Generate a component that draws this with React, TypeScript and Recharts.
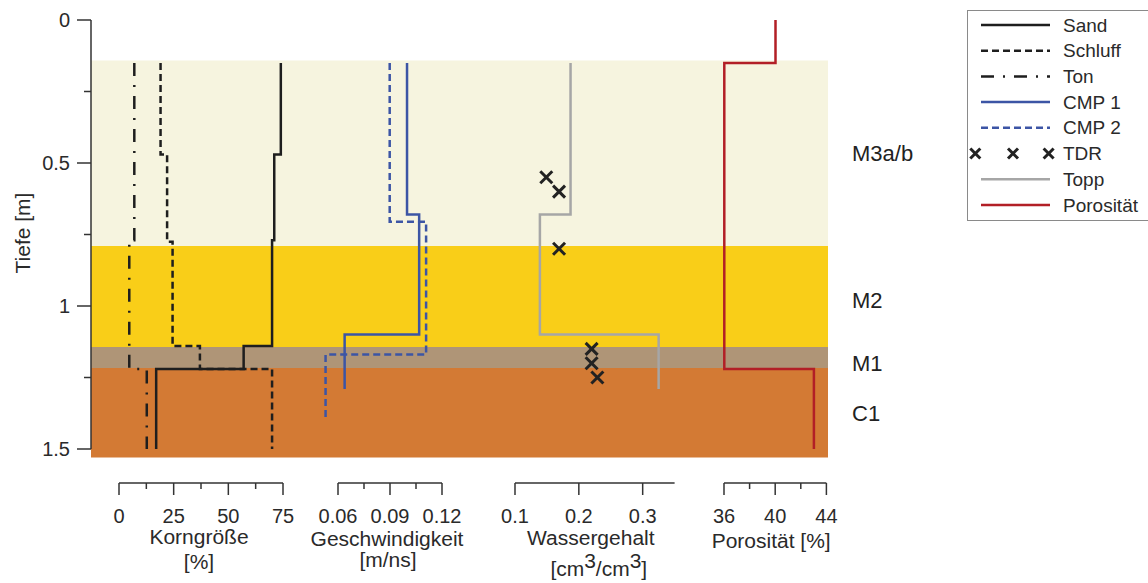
import React from "react";
import { Legend, ReferenceArea, Scatter, ScatterChart, XAxis, YAxis } from "recharts";

// Soil profile: grain size, radar velocity, water content and porosity
// against depth. Step profiles are stored as layer boundaries + one value
// per layer and expanded into step points below.

const sandDepths = [0.15, 0.47, 0.77, 1.14, 1.22, 1.5];
const sandValues = [74, 71, 70, 57, 17];
const schluffDepths = [0.15, 0.47, 0.775, 1.14, 1.22, 1.5];
const schluffValues = [19, 22, 24.5, 37, 70];
const tonDepths = [0.15, 0.77, 1.22, 1.5];
const tonValues = [7, 4.7, 12.7];

const cmp1Depths = [0.15, 0.68, 1.1, 1.29];
const cmp1Values = [0.1, 0.107, 0.064];
const cmp2Depths = [0.15, 0.705, 1.17, 1.39];
const cmp2Values = [0.09, 0.111, 0.053];

const toppDepths = [0.15, 0.68, 1.1, 1.29];
const toppValues = [0.187, 0.139, 0.325];
const tdrDepths = [0.55, 0.6, 0.8, 1.15, 1.2, 1.25];
const tdrValues = [0.149, 0.169, 0.169, 0.22, 0.22, 0.229];

const poroDepths = [0, 0.15, 1.22, 1.5];
const poroValues = [40, 36, 43];

const layerNames = ["M3a/b", "M2", "M1", "C1"];
const layerTops = [0.142, 0.79, 1.143, 1.217];
const layerBottoms = [0.79, 1.143, 1.217, 1.53];

const depthTicks = [0, 0.25, 0.5, 0.75, 1, 1.25, 1.5];
const depthLabels = [0, 0.5, 1, 1.5];
const kornTicks = [0, 12.5, 25, 37.5, 50, 62.5, 75];
const kornLabels = [0, 25, 50, 75];
const speedTicks = [0.06, 0.075, 0.09, 0.105, 0.12];
const speedLabels = [0.06, 0.09, 0.12];
const waterTicks = [0.1, 0.2, 0.3];
const poroTicks = [36, 38, 40, 42, 44];
const poroLabels = [36, 40, 44];

const legendNames = ["Sand", "Schluff", "Ton", "CMP 1", "CMP 2", "TDR", "Topp", "Porosität"];

// ---- layout / style ----
const W = 1148;
const H = 583;
const PLOT_LEFT = 91;
const PLOT_RIGHT = 828;
const PLOT_TOP = 20;
const PLOT_BOTTOM = 449;
const AXIS_Y = 482.7;
const AX_PAD = 80;
const INK = "#2a2a2a";
const FONT = "'Liberation Sans', Arial, sans-serif";

const layerColors = ["#f6f4df", "#f9ce18", "#af9577", "#d37a34"];
const layerLabelShift = [0, 4, 6, 1];

type Panel = { v0: number; v1: number; x0: number; x1: number };
const korn: Panel = { v0: 0, v1: 75, x0: 119, x1: 283 };
const speed: Panel = { v0: 0.06, v1: 0.12, x0: 337.7, x1: 441.7 };
const water: Panel = { v0: 0.1, v1: 0.35, x0: 515, x1: 674.6 };
const poro: Panel = { v0: 36, v1: 44, x0: 724.3, x1: 826.7 };

const styles: Record<string, { stroke: string; dash?: string }> = {
    Sand: { stroke: "#1e1e1e" },
    Schluff: { stroke: "#1e1e1e", dash: "7 4" },
    Ton: { stroke: "#1e1e1e", dash: "13 9 2 9" },
    "CMP 1": { stroke: "#3c55a5" },
    "CMP 2": { stroke: "#3c55a5", dash: "7 4" },
    Topp: { stroke: "#a6a6a6" },
    Porosität: { stroke: "#b21f26" },
};

function fullDomain(p: Panel): [number, number] {
    const k = (p.v1 - p.v0) / (p.x1 - p.x0);
    return [p.v0 - (p.x0 - PLOT_LEFT) * k, p.v1 + (PLOT_RIGHT - p.x1) * k];
}

function steps(depths: number[], values: number[]) {
    const pts: { d: number; v: number }[] = [];
    values.forEach((v, i) => {
        pts.push({ d: depths[i], v });
        pts.push({ d: depths[i + 1], v });
    });
    return pts;
}

const tdrData = tdrDepths.map((d, i) => ({ d, v: tdrValues[i] }));

function XMark({ cx, cy, size = 6 }: { cx: number; cy: number; size?: number }) {
    return (
        <g stroke="#222" strokeWidth={3}>
            <line x1={cx - size} y1={cy - size} x2={cx + size} y2={cy + size} />
            <line x1={cx - size} y1={cy + size} x2={cx + size} y2={cy - size} />
        </g>
    );
}

const NoDot = () => <g />;

function lineOf(name: string) {
    const s = styles[name];
    return { stroke: s.stroke, strokeWidth: 2.5, strokeDasharray: s.dash };
}

function DepthTick(props: any) {
    const { x, y, payload } = props;
    const major = depthLabels.includes(payload.value);
    return (
        <g>
            <line x1={x - (major ? 14 : 7)} x2={x} y1={y} y2={y} stroke="#333" strokeWidth={1.5} />
            {major && (
                <text x={x - 21} y={y} dy="0.35em" textAnchor="end" fontSize={20} fill={INK}>
                    {payload.value}
                </text>
            )}
        </g>
    );
}

function DepthLabel() {
    const cx = 22;
    const cy = 233;
    return (
        <text
            x={cx}
            y={cy}
            textAnchor="middle"
            dominantBaseline="central"
            fontSize={21}
            fill={INK}
            transform={`rotate(-90 ${cx} ${cy})`}
        >
            Tiefe [m]
        </text>
    );
}

function LegendBox() {
    const rowH = 25.7;
    return (
        <svg width={200} height={212} style={{ display: "block" }}>
            <rect x={0.5} y={0.5} width={199} height={210} fill="#fff" stroke="#8a8a8a" />
            {legendNames.map((name, i) => {
                const cy = 15 + i * rowH;
                const s = styles[name];
                return (
                    <g key={name}>
                        {name === "TDR" ? (
                            [8.3, 46, 81.6].map((cx) => <XMark key={cx} cx={cx} cy={cy} size={5} />)
                        ) : (
                            <line
                                x1={14}
                                x2={83}
                                y1={cy}
                                y2={cy}
                                stroke={s.stroke}
                                strokeWidth={2.5}
                                strokeDasharray={s.dash}
                            />
                        )}
                        <text x={96} y={cy} dy="0.35em" fontSize={19} fill={INK}>
                            {name}
                        </text>
                    </g>
                );
            })}
        </svg>
    );
}

function BottomAxis({
    panel,
    ticks,
    labels,
    title,
}: {
    panel: Panel;
    ticks: number[];
    labels: number[];
    title: (cx: number, y: number) => React.ReactNode;
}) {
    const w = panel.x1 - panel.x0;
    const renderTick = (props: any) => {
        const { x, y, payload } = props;
        const major = labels.includes(payload.value);
        return (
            <g>
                <line x1={x} x2={x} y1={y} y2={y + (major ? 12 : 6)} stroke="#333" strokeWidth={1.5} />
                {major && (
                    <text x={x} y={y + 40} textAnchor="middle" fontSize={20} fill={INK}>
                        {String(payload.value)}
                    </text>
                )}
            </g>
        );
    };
    return (
        <div style={{ position: "absolute", left: panel.x0 - AX_PAD, top: AXIS_Y - 10 }}>
            <ScatterChart
                width={w + 2 * AX_PAD}
                height={110}
                margin={{ top: 5, right: AX_PAD, bottom: 0, left: AX_PAD }}
            >
                <XAxis
                    type="number"
                    dataKey="v"
                    domain={[panel.v0, panel.v1]}
                    allowDataOverflow
                    ticks={ticks}
                    interval={0}
                    tickSize={0}
                    tickMargin={0}
                    tickLine={false}
                    axisLine={{ stroke: "#333", strokeWidth: 1.5 }}
                    height={100}
                    tick={renderTick}
                    label={{
                        content: (p: any) => title(p.viewBox.x + p.viewBox.width / 2, p.viewBox.y),
                    }}
                />
                <YAxis type="number" dataKey="d" hide />
            </ScatterChart>
        </div>
    );
}

const txt = { fontSize: 21, fill: INK, textAnchor: "middle" as const };

export default function App() {
    return (
        <div
            style={{
                position: "relative",
                width: W,
                height: H,
                overflow: "hidden",
                fontFamily: FONT,
                background: "#fff",
            }}
        >
            <style>{"body{margin:0}"}</style>
            <div style={{ position: "absolute", left: 0, top: 0 }}>
                <ScatterChart
                    width={W}
                    height={H}
                    margin={{ top: PLOT_TOP, right: W - PLOT_RIGHT, bottom: H - PLOT_BOTTOM, left: 0 }}
                >
                    <XAxis xAxisId="korn" type="number" dataKey="v" domain={fullDomain(korn)} allowDataOverflow hide />
                    <XAxis xAxisId="speed" type="number" dataKey="v" domain={fullDomain(speed)} allowDataOverflow hide />
                    <XAxis xAxisId="water" type="number" dataKey="v" domain={fullDomain(water)} allowDataOverflow hide />
                    <XAxis xAxisId="poro" type="number" dataKey="v" domain={fullDomain(poro)} allowDataOverflow hide />
                    <YAxis
                        type="number"
                        dataKey="d"
                        domain={[0, 1.5]}
                        reversed
                        ticks={depthTicks}
                        interval={0}
                        width={PLOT_LEFT}
                        tickSize={0}
                        tickMargin={0}
                        tickLine={false}
                        axisLine={{ stroke: "#333", strokeWidth: 1.5 }}
                        tick={DepthTick}
                        label={{ content: () => <DepthLabel /> }}
                    />
                    {layerNames.map((name, i) => (
                        <ReferenceArea
                            key={name}
                            xAxisId="korn"
                            y1={layerTops[i]}
                            y2={layerBottoms[i]}
                            fill={layerColors[i]}
                            fillOpacity={1}
                            stroke="none"
                            ifOverflow="visible"
                            label={{
                                content: (p: any) => (
                                    <text
                                        x={p.viewBox.x + p.viewBox.width + 24}
                                        y={p.viewBox.y + p.viewBox.height / 2 + layerLabelShift[i]}
                                        dominantBaseline="central"
                                        fontSize={22}
                                        fill="#222"
                                    >
                                        {name}
                                    </text>
                                ),
                            }}
                        />
                    ))}
                    <Scatter xAxisId="korn" data={steps(tonDepths, tonValues)} line={lineOf("Ton")} shape={NoDot} isAnimationActive={false} />
                    <Scatter xAxisId="korn" data={steps(schluffDepths, schluffValues)} line={lineOf("Schluff")} shape={NoDot} isAnimationActive={false} />
                    <Scatter xAxisId="korn" data={steps(sandDepths, sandValues)} line={lineOf("Sand")} shape={NoDot} isAnimationActive={false} />
                    <Scatter xAxisId="speed" data={steps(cmp2Depths, cmp2Values)} line={lineOf("CMP 2")} shape={NoDot} isAnimationActive={false} />
                    <Scatter xAxisId="speed" data={steps(cmp1Depths, cmp1Values)} line={lineOf("CMP 1")} shape={NoDot} isAnimationActive={false} />
                    <Scatter xAxisId="water" data={steps(toppDepths, toppValues)} line={lineOf("Topp")} shape={NoDot} isAnimationActive={false} />
                    <Scatter
                        xAxisId="water"
                        data={tdrData}
                        shape={(p: any) => <XMark cx={p.cx} cy={p.cy} />}
                        isAnimationActive={false}
                    />
                    <Scatter xAxisId="poro" data={steps(poroDepths, poroValues)} line={lineOf("Porosität")} shape={NoDot} isAnimationActive={false} />
                    <Legend
                        layout="vertical"
                        align="center"
                        verticalAlign="middle"
                        content={() => <LegendBox />}
                        wrapperStyle={{ position: "absolute", left: 966.7, top: 10, width: 200, height: 212 }}
                    />
                </ScatterChart>
            </div>

            <BottomAxis
                panel={korn}
                ticks={kornTicks}
                labels={kornLabels}
                title={(cx, y) => (
                    <g>
                        <text x={cx - 2} y={y + 61} {...txt}>Korngröße</text>
                        <text x={cx - 2} y={y + 86} {...txt}>[%]</text>
                    </g>
                )}
            />
            <BottomAxis
                panel={speed}
                ticks={speedTicks}
                labels={speedLabels}
                title={(cx, y) => (
                    <g>
                        <text x={cx - 3} y={y + 63} {...txt}>Geschwindigkeit</text>
                        <text x={cx - 2} y={y + 84} {...txt}>[m/ns]</text>
                    </g>
                )}
            />
            <BottomAxis
                panel={water}
                ticks={waterTicks}
                labels={waterTicks}
                title={(cx, y) => (
                    <g>
                        <text x={cx - 4} y={y + 62} {...txt}>Wassergehalt</text>
                        <text x={cx + 4} y={y + 93} {...txt}>
                            [cm<tspan dy={-8}>3</tspan>
                            <tspan dy={8}>/cm</tspan>
                            <tspan dy={-8}>3</tspan>
                            <tspan dy={8}>]</tspan>
                        </text>
                    </g>
                )}
            />
            <BottomAxis
                panel={poro}
                ticks={poroTicks}
                labels={poroLabels}
                title={(cx, y) => (
                    <text x={cx - 4} y={y + 65} {...txt}>Porosität [%]</text>
                )}
            />
        </div>
    );
}
